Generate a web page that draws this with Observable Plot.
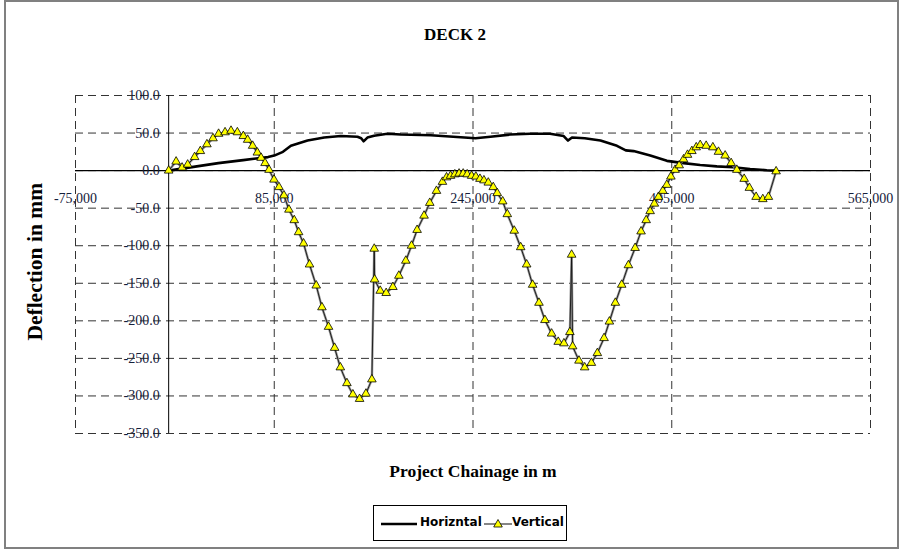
<!DOCTYPE html>
<html><head><meta charset="utf-8">
<script src="https://cdn.jsdelivr.net/npm/d3@7"></script>
<script src="https://cdn.jsdelivr.net/npm/@observablehq/plot@0.6"></script>
<style>
body{margin:0;background:#fff;}
#wrap{position:relative;width:901px;height:549px;overflow:hidden;background:#fff;}
#chart{position:absolute;left:0;top:0;}
#chart svg text{font-family:"Liberation Serif",serif;font-size:14px;}
#border{position:absolute;left:4px;top:0px;width:891px;height:545px;border:2px solid #808080;box-sizing:content-box;}
.t{position:absolute;font-family:"Liberation Serif",serif;font-weight:bold;color:#000;line-height:1;white-space:nowrap;}
#title{left:355px;width:200px;text-align:center;top:26px;font-size:17px;}
#xlab{left:323px;width:300px;text-align:center;top:463px;font-size:17.5px;}
#ylab{left:-84px;width:240px;text-align:center;top:251px;font-size:21.5px;transform:rotate(-90deg);}
#legend{position:absolute;left:373px;top:505px;width:194px;height:36px;border:1px solid #000;box-sizing:border-box;background:#fff;}
#legend span{position:absolute;top:10px;font-family:"DejaVu Sans",sans-serif;font-weight:bold;font-size:12px;line-height:1;color:#000;}
#legend svg{position:absolute;left:0;top:0;}
</style></head><body>
<div id="wrap">
<div id="chart"></div>
<div id="border"></div>
<div class="t" id="title">DECK 2</div>
<div class="t" id="xlab">Project Chainage in m</div>
<div class="t" id="ylab">Deflection in mm</div>
<div id="legend">
<svg width="194" height="36">
<line x1="7" x2="43" y1="18" y2="18" stroke="#000" stroke-width="2.6"/>
<line x1="110" x2="138" y1="18" y2="18" stroke="#222" stroke-width="1.1"/>
<path d="M124,13.5 L128.3,21 L119.7,21 Z" fill="#ffff00" stroke="#000" stroke-width="0.8"/>
</svg>
<span style="left:46px">Horizntal</span>
<span style="left:138px">Vertical</span>
</div>
</div>
<script>
const xTicks = [-75000, 85000, 245000, 405000, 565000];
const yTicks = [100, 50, 0, -50, -100, -150, -200, -250, -300, -350];

const vertChainage = [0, 6000, 10800, 15300, 20900, 25500, 30800, 35700, 40200, 45400, 50200, 55300, 60100, 63600, 67600, 71400, 74400, 77600, 80800, 84800, 88800, 92800, 96800, 101100, 104600, 108600, 113400, 118800, 123400, 128700, 133600, 138200, 143500, 148300, 153700, 158800, 163600, 165500, 165800, 170300, 175100, 180500, 185300, 190900, 195500, 200000, 205600, 210200, 215600, 220400, 223700, 226900, 230400, 233800, 237100, 240300, 243900, 247300, 250600, 253800, 257300, 261300, 264500, 268900, 272600, 278200, 283400, 288200, 293000, 298100, 302900, 308300, 313600, 318200, 323000, 324400, 325200, 330300, 334900, 340300, 345100, 350500, 354800, 359600, 364700, 370100, 375500, 380300, 384400, 387600, 391000, 394300, 397800, 401000, 404300, 407700, 411000, 414500, 417700, 421200, 424700, 427900, 432700, 438100, 442600, 448000, 452800, 457400, 463300, 467500, 472900, 478300, 482800, 489000];
const vertValues = [0, 12, 4, 8, 18, 26, 35, 43, 49, 51, 53, 51, 46, 41, 33, 24, 17, 10, 1, -12, -22, -33, -52, -66, -82, -97, -125, -153, -182, -208, -236, -262, -283, -298, -304, -297, -278, -104, -145, -160, -163, -155, -140, -120, -100, -79, -60, -43, -27, -15, -9, -7, -5, -4, -4, -5, -7, -8, -11, -13, -16, -22, -30, -41, -58, -80, -102, -125, -152, -176, -199, -217, -228, -230, -215, -112, -234, -253, -262, -256, -243, -223, -201, -176, -152, -126, -103, -81, -66, -54, -44, -35, -27, -19, -8, 1, 7, 15, 21, 26, 31, 34, 33, 31, 25, 20, 10, 1, -11, -23, -35, -38, -35, -1];

const horChainage = [0, 20000, 40000, 60000, 80000, 85000, 92000, 98400, 111800, 125200, 138600, 152000, 155000, 156900, 160000, 165400, 176100, 186900, 211000, 235100, 247000, 259000, 275000, 291000, 307000, 318000, 321500, 324700, 335000, 347600, 360900, 368000, 374300, 387700, 401100, 414500, 427900, 441300, 454700, 468100, 481500, 489000];
const horValues = [0, 5, 10, 14, 18, 20, 25, 33, 40, 44, 46, 45, 43, 39, 44, 46.5, 49, 48, 47, 44.5, 43, 45, 48, 49, 49, 46, 40, 44, 43, 40, 33, 27, 26, 20, 13, 10, 7.5, 5.7, 4.4, 2, 0.5, 0];

const vert = vertChainage.map((c, i) => ({c, v: vertValues[i]}));
const hor = horChainage.map((c, i) => ({c, v: horValues[i]}));

const chart = Plot.plot({
  width: 901, height: 549,
  marginLeft: 75, marginRight: 31, marginTop: 95, marginBottom: 116,
  x: {domain: [-75000, 565000], axis: null},
  y: {domain: [-350, 100], axis: null},
  style: {background: "transparent"},
  marks: [
    Plot.ruleY(yTicks, {stroke: "#333", strokeDasharray: "8,5", strokeWidth: 1}),
    Plot.ruleX(xTicks, {stroke: "#333", strokeDasharray: "8,5", strokeWidth: 1}),
    Plot.ruleY([0], {stroke: "#000", strokeWidth: 1.3}),
    Plot.ruleX([0], {stroke: "#000", strokeWidth: 1}),
    Plot.text(yTicks, {x: 0, y: d => d, text: d => d.toFixed(1), textAnchor: "end", dx: -9, fill: "#15203a"}),
    Plot.text(xTicks, {x: d => d, y: 0, text: d => d.toLocaleString("en-US"), dy: 28, fill: "#15203a"}),
    Plot.line(hor, {x: "c", y: "v", stroke: "#000", strokeWidth: 2.6}),
    Plot.line(vert, {x: "c", y: "v", stroke: "#999", strokeWidth: 2.4}),
    Plot.line(vert, {x: "c", y: "v", stroke: "#111", strokeWidth: 0.9}),
    Plot.dot(vert, {x: "c", y: "v", symbol: "triangle", r: 3.2, fill: "#ffff00", stroke: "#000", strokeWidth: 0.8})
  ]
});
document.getElementById("chart").appendChild(chart);
</script>
</body></html>
